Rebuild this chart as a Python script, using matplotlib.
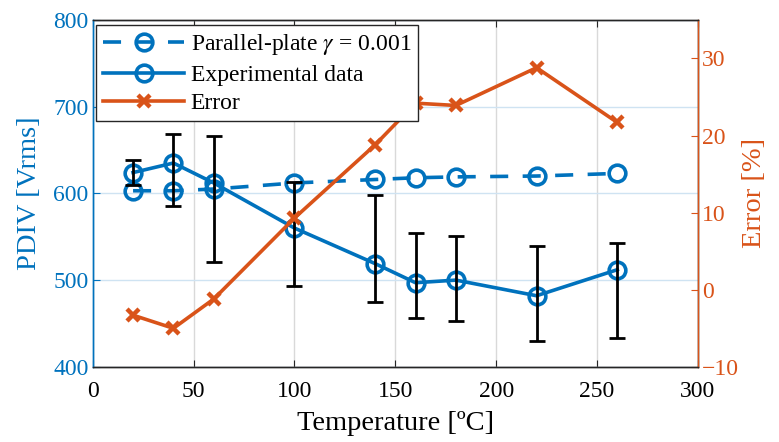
import numpy as np
import matplotlib
matplotlib.use("Agg")
import matplotlib.pyplot as plt

# -------------------------------
# DATA
# -------------------------------
temperature = [20, 40, 60, 100, 140, 160, 180, 220, 260]
pdiv_parallel = [603, 603, 605, 612, 616, 618, 619, 620, 623]
pdiv_exp = [624, 635, 612, 560, 519, 497, 500, 482, 512]
pdiv_exp_high = [639, 669, 666, 613, 598, 554, 551, 539, 543]
pdiv_exp_low = [610, 585, 521, 493, 475, 456, 453, 430, 433]
error_pct = [-3.3, -5.0, -1.2, 9.3, 18.8, 24.2, 23.9, 28.8, 21.7]

blue = "#0072BD"
orange = "#D95319"

plt.rcParams["font.family"] = ["Liberation Serif", "DejaVu Serif"]
plt.rcParams["mathtext.fontset"] = "stix"

# -------------------------------
# FIGURE
# -------------------------------
fig = plt.figure(figsize=(7.79, 4.42), dpi=100)
ax = fig.add_axes([0.119, 0.170, 0.777, 0.785])
ax2 = ax.twinx()

exp = np.array(pdiv_exp)
yerr = [exp - np.array(pdiv_exp_low), np.array(pdiv_exp_high) - exp]

h_pp, = ax.plot(temperature, pdiv_parallel, color=blue, lw=2.6, ls="--",
                dashes=(5, 4), marker="o", ms=12, mfc="none", mew=2.6,
                label=r"Parallel-plate $\gamma$ = 0.001", zorder=3)
h_exp, = ax.plot(temperature, pdiv_exp, color=blue, lw=2.6, marker="o",
                 ms=12, mfc="none", mew=2.6, label="Experimental data",
                 zorder=3)
ax.errorbar(temperature, pdiv_exp, yerr=yerr, fmt="none", ecolor="black",
            elinewidth=2, capsize=6, capthick=2, zorder=4)

h_err, = ax2.plot(temperature, error_pct, color=orange, lw=2.6, marker="x",
                  ms=9, mew=3.2, label="Error", zorder=5)

# -------------------------------
# AXES STYLING
# -------------------------------
ax.set_xlim(0, 300)
ax.set_ylim(400, 800)
ax2.set_ylim(-10, 35)
ax.set_xticks(range(0, 301, 50))
ax.set_yticks(range(400, 801, 100))
ax2.set_yticks(range(-10, 31, 10))

ax.set_xlabel("Temperature [ºC]", fontsize=20.5, labelpad=7)
ax.set_ylabel("PDIV [Vrms]", fontsize=20.5, color=blue, labelpad=8)
ax2.set_ylabel("Error [%]", fontsize=20.5, color=orange, labelpad=2)

ax.tick_params(axis="x", direction="in", top=True, labelsize=17,
               colors="#262626", pad=10, length=5)
ax.tick_params(axis="x", labelcolor="black")
ax.tick_params(axis="y", direction="in", labelsize=17, colors=blue,
               length=5, pad=3)
ax2.tick_params(axis="y", direction="in", labelsize=17, colors=orange,
                length=5, pad=3)

ax.spines["left"].set_color(blue)
ax2.spines["left"].set_color(blue)
ax2.spines["right"].set_color(orange)
ax.spines["bottom"].set_color("#262626")
ax.spines["top"].set_color("#262626")
ax2.spines["top"].set_color("#262626")
ax2.spines["bottom"].set_color("#262626")
for a in (ax, ax2):
    for s in a.spines.values():
        s.set_linewidth(1.0)

ax.set_axisbelow(True)
ax.grid(axis="x", color="#d9d9d9", lw=1.0)
ax.grid(axis="y", color="#cfe3f2", lw=1.0)

leg = ax2.legend(handles=[h_pp, h_exp, h_err], loc="upper left",
                 bbox_to_anchor=(0.006, 0.985), fontsize=17,
                 handlelength=3.4, handletextpad=0.3, labelspacing=0.3,
                 borderpad=0.3, borderaxespad=0.0, fancybox=False,
                 framealpha=1, edgecolor="#262626")
leg.get_frame().set_linewidth(1.0)
leg.set_zorder(10)

fig.savefig("out.png", dpi=100)
